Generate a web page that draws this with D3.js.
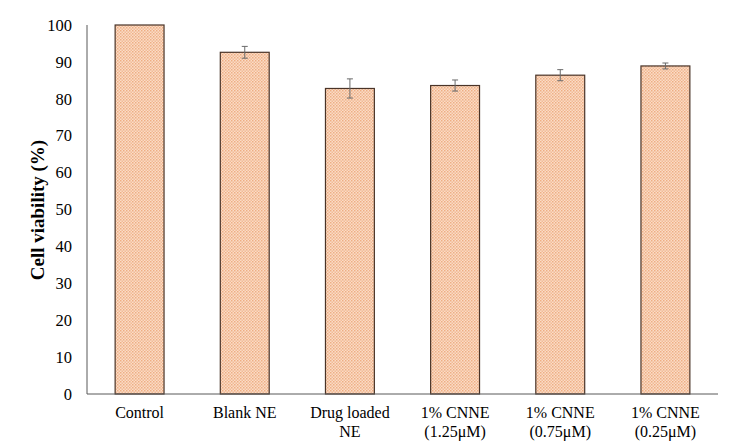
<!DOCTYPE html>
<html><head><meta charset="utf-8">
<script src="https://cdn.jsdelivr.net/npm/d3@7"></script>
<style>body{margin:0;background:#fff} svg text{font-family:"Liberation Serif","DejaVu Serif",serif;}</style>
</head><body>
<svg id="c" width="729" height="448"></svg>
<script>
const categories = [["Control"],["Blank NE"],["Drug loaded","NE"],["1% CNNE","(1.25\u03bcM)"],["1% CNNE","(0.75\u03bcM)"],["1% CNNE","(0.25\u03bcM)"]];
const values = [100, 92.6, 82.8, 83.6, 86.4, 88.9];
const errors = [0, 1.6, 2.6, 1.5, 1.5, 0.8];
const yTicks = [0,10,20,30,40,50,60,70,80,90,100];

(function(){
const svg = d3.select("#c");
const mL = 87, mR = 718, mT = 25, mB = 394;

const defs = svg.append("defs");
const pat = defs.append("pattern").attr("id","dots").attr("width",3).attr("height",3).attr("patternUnits","userSpaceOnUse");
pat.append("rect").attr("width",3).attr("height",3).attr("fill","#fbdcc6");
pat.append("rect").attr("x",0).attr("y",0).attr("width",1.5).attr("height",1.5).attr("fill","#eeae84");
pat.append("rect").attr("x",1.5).attr("y",1.5).attr("width",1.5).attr("height",1.5).attr("fill","#f2bb96");

const x = d3.scaleBand().domain(d3.range(categories.length)).range([mL, mR]).paddingInner(0.535).paddingOuter(0.2675);
const y = d3.scaleLinear().domain([0,100]).range([mB, mT]);

svg.append("g").selectAll("text").data(yTicks).join("text")
  .attr("x", 72).attr("y", d => y(d)).attr("dy","0.35em")
  .attr("text-anchor","end").style("font-size","16.5px").attr("fill","#000")
  .text(d => d);

svg.append("g").selectAll("rect").data(values).join("rect")
  .attr("x",(d,i)=>x(i)).attr("width",x.bandwidth())
  .attr("y",d=>y(d)).attr("height",d=>y(0)-y(d))
  .attr("fill","url(#dots)").attr("stroke","#4a3428").attr("stroke-width",1.2);

const eg = svg.append("g").attr("stroke","#6b6b6b").attr("stroke-width",1);
values.forEach((v,i)=>{
  const e = errors[i]; if(!e) return;
  const cx = x(i)+x.bandwidth()/2;
  eg.append("line").attr("x1",cx).attr("x2",cx).attr("y1",y(v+e)).attr("y2",y(v-e));
  eg.append("line").attr("x1",cx-3).attr("x2",cx+3).attr("y1",y(v+e)).attr("y2",y(v+e));
  eg.append("line").attr("x1",cx-3).attr("x2",cx+3).attr("y1",y(v-e)).attr("y2",y(v-e));
});

svg.append("line").attr("x1",mL).attr("x2",mL).attr("y1",mT).attr("y2",mB).attr("stroke","#595959").attr("stroke-width",1);
svg.append("line").attr("x1",mL).attr("x2",mR).attr("y1",mB).attr("y2",mB).attr("stroke","#595959").attr("stroke-width",1);

const xl = svg.append("g").selectAll("text").data(categories).join("text")
  .attr("x",(d,i)=>x(i)+x.bandwidth()/2).attr("y",418)
  .attr("text-anchor","middle").style("font-size","16px").attr("fill","#000");
xl.each(function(d){
  const t = d3.select(this);
  d.forEach((line,j)=>t.append("tspan").attr("x",t.attr("x")).attr("dy", j===0?0:19).text(line));
});

svg.append("text").attr("transform","translate(44,210) rotate(-90)")
  .attr("text-anchor","middle").style("font-size","19px").style("font-weight","bold")
  .text("Cell viability (%)");
})();
</script>
</body></html>
